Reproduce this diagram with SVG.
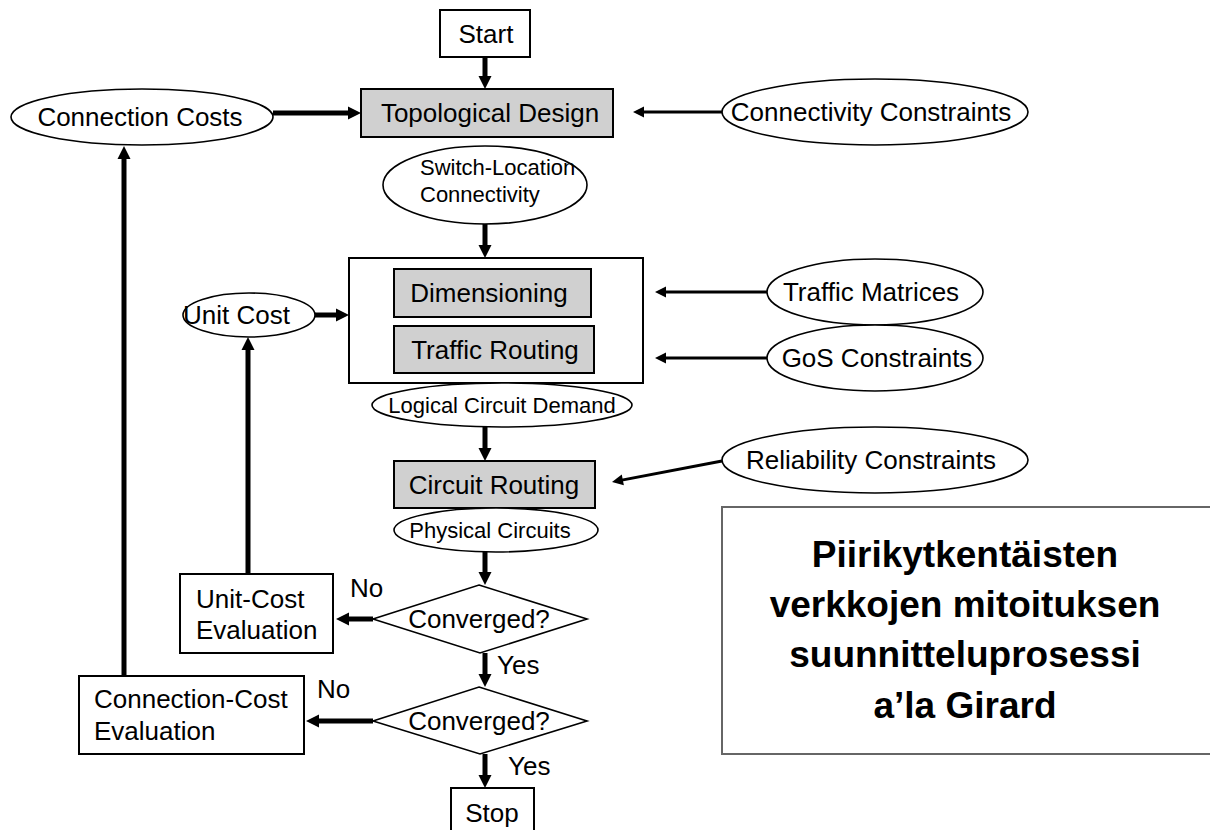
<svg xmlns="http://www.w3.org/2000/svg" width="1210" height="830" viewBox="0 0 1210 830">
<defs>
<style>
text{font-family:"Liberation Sans",Arial,sans-serif;font-size:26px;fill:#000}
.s{font-size:22px}
.c{text-anchor:middle}
.box{fill:#fff;stroke:#000;stroke-width:2}
.gray{fill:#d0d0d0;stroke:#000;stroke-width:2}
.ell{fill:#fff;stroke:#000;stroke-width:1.6}
.thick{fill:none;stroke:#000;stroke-width:5;marker-end:url(#hT)}
.med{fill:none;stroke:#000;stroke-width:3;marker-end:url(#hM)}
.thin{fill:none;stroke:#000;stroke-width:1.6;marker-end:url(#hS)}
.title{font-size:37px;font-weight:bold;text-anchor:middle}
</style>
<marker id="hT" markerUnits="userSpaceOnUse" markerWidth="14" markerHeight="14" refX="6" refY="6.5" orient="auto" overflow="visible"><path d="M0,0 L13,6.5 L0,13 z" fill="#000"/></marker>
<marker id="hM" markerUnits="userSpaceOnUse" markerWidth="12" markerHeight="12" refX="5" refY="5.5" orient="auto" overflow="visible"><path d="M0,0 L11,5.5 L0,11 z" fill="#000"/></marker>
<marker id="hS" markerUnits="userSpaceOnUse" markerWidth="9" markerHeight="9" refX="4" refY="4" orient="auto" overflow="visible"><path d="M0,0 L8,4 L0,8 z" fill="#000"/></marker>
</defs>
<rect width="1210" height="830" fill="#fff"/>

<g id="connectors">
<path class="thick" d="M485,57 V82"/>
<path class="thick" d="M273,113 H354"/>
<path class="med" d="M722,112 H639"/>
<path class="thick" d="M485,224 V251"/>
<path class="thick" d="M315,315 H342"/>
<path class="med" d="M767,292 H661"/>
<path class="med" d="M767,358 H661"/>
<path class="thin" d="M394,349 H372 V293 H390"/>
<path class="thin" d="M588,293 H620 V349 H598"/>
<path class="thick" d="M485,427 V454"/>
<path class="med" d="M722,461 L617.9,480.9"/>
<path class="thick" d="M485,552 V578"/>
<path class="thick" d="M373,619 H343"/>
<path class="thick" d="M248,574 V344"/>
<path class="thick" d="M485,653 V680"/>
<path class="thick" d="M373,721 H313"/>
<path class="thick" d="M124,676 V153"/>
<path class="thick" d="M485,754 V781"/>
</g>

<g id="start"><rect class="box" x="440" y="10" width="90" height="47"/><text class="c" x="486" y="43">Start</text></g>
<g id="topological-design"><rect class="gray" x="361" y="89" width="252" height="48"/><text class="c" x="490" y="122">Topological Design</text></g>
<g id="connection-costs"><ellipse class="ell" cx="142" cy="117" rx="131" ry="28"/><text class="c" x="140" y="126">Connection Costs</text></g>
<g id="connectivity-constraints"><ellipse class="ell" cx="875" cy="112" rx="153" ry="33"/><text class="c" x="871" y="121">Connectivity Constraints</text></g>
<g id="switch-location"><ellipse class="ell" cx="485" cy="185" rx="102" ry="39"/><text class="s" x="420" y="175">Switch-Location</text><text class="s" x="420" y="202">Connectivity</text></g>
<g id="dimensioning-block"><rect class="box" x="349" y="258" width="294" height="125"/></g>
<g id="dimensioning"><rect class="gray" x="394" y="269" width="197" height="48"/><text class="c" x="489" y="302">Dimensioning</text></g>
<g id="traffic-routing"><rect class="gray" x="394" y="326" width="200" height="47"/><text class="c" x="495" y="359">Traffic Routing</text></g>
<g id="unit-cost"><ellipse class="ell" cx="249" cy="315" rx="66" ry="22"/><text x="183" y="324">Unit Cost</text></g>
<g id="traffic-matrices"><ellipse class="ell" cx="875" cy="292" rx="108" ry="33"/><text class="c" x="871" y="301">Traffic Matrices</text></g>
<g id="gos-constraints"><ellipse class="ell" cx="875" cy="358" rx="108" ry="33"/><text class="c" x="877" y="367">GoS Constraints</text></g>
<g id="logical-circuit-demand"><ellipse class="ell" cx="502" cy="405" rx="130" ry="22"/><text class="s c" x="502" y="413">Logical Circuit Demand</text></g>
<g id="circuit-routing"><rect class="gray" x="394" y="461" width="201" height="47"/><text class="c" x="494" y="494">Circuit Routing</text></g>
<g id="reliability-constraints"><ellipse class="ell" cx="875" cy="460" rx="153" ry="33"/><text class="c" x="871" y="469">Reliability Constraints</text></g>
<g id="physical-circuits"><ellipse class="ell" cx="496" cy="530" rx="102" ry="22"/><text class="s c" x="490" y="538">Physical Circuits</text></g>
<g id="converged-1"><polygon class="box" style="stroke-width:1.6" points="479,585 587,619 480,653 373,619"/><text class="c" x="479" y="628">Converged?</text></g>
<g id="unit-cost-evaluation"><rect class="box" x="180" y="574" width="153" height="79"/><text x="196" y="608">Unit-Cost</text><text x="196" y="639">Evaluation</text></g>
<g id="converged-2"><polygon class="box" style="stroke-width:1.6" points="479,687 587,721 480,754 373,721"/><text class="c" x="479" y="730">Converged?</text></g>
<g id="connection-cost-evaluation"><rect class="box" x="79" y="676" width="225" height="78"/><text x="94" y="708">Connection-Cost</text><text x="94" y="740">Evaluation</text></g>
<g id="stop"><rect class="box" x="451" y="788" width="83" height="46"/><text class="c" x="492" y="822">Stop</text></g>
<g id="labels"><text x="350" y="597">No</text><text x="497" y="674">Yes</text><text x="317" y="698">No</text><text x="508" y="775">Yes</text></g>
<g id="title"><path d="M1212,507 H722 V754 H1212" fill="#fff" stroke="#666" stroke-width="2"/>
<text class="title" x="965" y="567">Piirikytkentäisten</text>
<text class="title" x="965" y="617">verkkojen mitoituksen</text>
<text class="title" x="965" y="667">suunnitteluprosessi</text>
<text class="title" x="965" y="718">a’la Girard</text></g>
</svg>
